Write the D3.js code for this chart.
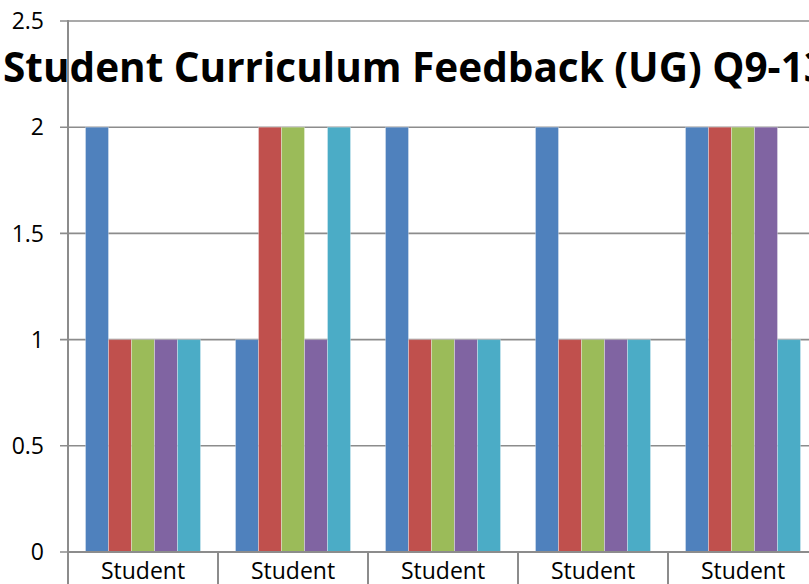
<!DOCTYPE html>
<html>
<head>
<meta charset="utf-8">
<script src="https://cdn.jsdelivr.net/npm/d3@7"></script>
<style>
  body { margin: 0; background: #fff; }
  text { font-family: "Open Sans", "Noto Sans", sans-serif; }
</style>
</head>
<body>
<div id="chart"></div>
<script>
const categories = ["Student", "Student", "Student", "Student", "Student"];
const seriesNames = ["S1", "S2", "S3", "S4", "S5"];
const values = [
    [2, 1, 1, 1, 1],
    [1, 2, 2, 1, 2],
    [2, 1, 1, 1, 1],
    [2, 1, 1, 1, 1],
    [2, 2, 2, 2, 1]
];
const yTicks = [0, 0.5, 1, 1.5, 2, 2.5];
const colors = ["#4F81BD", "#C0504D", "#9BBB59", "#8064A2", "#4BACC6"];

const svgWidth = 809;
const svgHeight = 584;

const svg = d3.select("#chart")
    .append("svg")
    .attr("width", svgWidth)
    .attr("height", svgHeight);

const left = 68;
const catWidth = 150;

const x0 = d3.scaleBand()
    .domain(d3.range(categories.length))
    .range([left, left + catWidth * categories.length])
    .padding(0);

const x1 = d3.scaleBand()
    .domain(seriesNames)
    .range([17.5, catWidth - 17.5]);

const y = d3.scaleLinear()
    .domain([0, 2.5])
    .range([552, 21]);

// gridlines + tick marks
svg.append("g")
    .selectAll("line")
    .data(yTicks)
    .enter()
    .append("line")
    .attr("x1", 60)
    .attr("x2", svgWidth)
    .attr("y1", d => y(d))
    .attr("y2", d => y(d))
    .attr("stroke", "#8c8c8c")
    .attr("stroke-width", 1.6);

// y labels
svg.append("g")
    .selectAll("text")
    .data(yTicks)
    .enter()
    .append("text")
    .attr("x", 44)
    .attr("y", d => y(d))
    .attr("dy", "0.36em")
    .attr("text-anchor", "end")
    .attr("font-size", 23)
    .attr("fill", "#000")
    .text(d => d);

// bars
const groups = svg.append("g")
    .selectAll("g")
    .data(values)
    .enter()
    .append("g")
    .attr("transform", (d, i) => `translate(${x0(i)},0)`);

groups.selectAll("rect")
    .data(d => d.map((v, j) => ({ name: seriesNames[j], value: v, j: j })))
    .enter()
    .append("rect")
    .attr("x", d => x1(d.name))
    .attr("y", d => y(d.value))
    .attr("width", x1.bandwidth())
    .attr("height", d => y(0) - y(d.value))
    .attr("fill", d => colors[d.j])
    .attr("stroke", "#fff")
    .attr("stroke-opacity", 0.3)
    .attr("stroke-width", 1);

// y axis line
svg.append("line")
    .attr("x1", left)
    .attr("x2", left)
    .attr("y1", y(2.5) - 1)
    .attr("y2", svgHeight)
    .attr("stroke", "#8c8c8c")
    .attr("stroke-width", 2);

// category separators
svg.append("g")
    .selectAll("line")
    .data(d3.range(1, categories.length + 1))
    .enter()
    .append("line")
    .attr("x1", i => x0(0) + i * catWidth)
    .attr("x2", i => x0(0) + i * catWidth)
    .attr("y1", y(0))
    .attr("y2", svgHeight)
    .attr("stroke", "#8c8c8c")
    .attr("stroke-width", 2);

// x axis line
svg.append("line")
    .attr("x1", left)
    .attr("x2", svgWidth)
    .attr("y1", y(0))
    .attr("y2", y(0))
    .attr("stroke", "#8c8c8c")
    .attr("stroke-width", 2);

// category labels
svg.append("g")
    .selectAll("text")
    .data(categories)
    .enter()
    .append("text")
    .attr("x", (d, i) => x0(i) + catWidth / 2)
    .attr("y", 579)
    .attr("text-anchor", "middle")
    .attr("font-size", 23)
    .attr("fill", "#000")
    .text(d => d);

// title
svg.append("text")
    .attr("x", 3)
    .attr("y", 82)
    .attr("font-size", 40.5)
    .attr("font-weight", "bold")
    .attr("fill", "#000")
    .text("Student Curriculum Feedback (UG) Q9-13");
</script>
</body>
</html>
